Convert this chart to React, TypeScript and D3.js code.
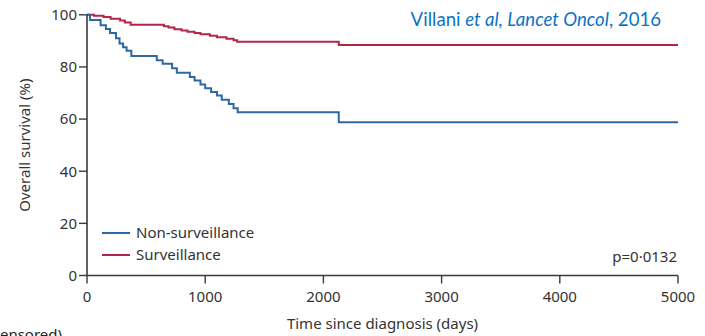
import React from "react";
import * as d3 from "d3";

const xTicks = [0, 1000, 2000, 3000, 4000, 5000];
const yTicks = [0, 20, 40, 60, 80, 100];

// Non-surveillance (blue) step times (days) and survival (%)
const nonSurvTimes = [0, 25, 115, 160, 195, 245, 275, 305, 335, 375, 590, 640, 720, 760, 870, 910, 960, 1000, 1050, 1100, 1140, 1200, 1240, 1275, 2130, 5000];
const nonSurvValues = [100, 98, 96, 94.6, 93, 91, 89, 87.6, 86.2, 84.2, 82.6, 81.2, 79.5, 77.8, 76.1, 74.8, 73.3, 71.8, 70.4, 69, 67.4, 65.8, 64.2, 62.6, 58.8, 58.8];

// Surveillance (red) step times (days) and survival (%)
const survTimes = [0, 60, 140, 200, 280, 320, 370, 650, 690, 740, 800, 850, 910, 960, 1040, 1100, 1180, 1240, 1270, 2130, 5000];
const survValues = [100, 99.6, 99.2, 98.5, 97.8, 97.0, 96.2, 95.6, 95.1, 94.5, 94.0, 93.5, 93.0, 92.5, 92.0, 91.4, 90.8, 90.2, 89.7, 88.4, 88.4];

const legendLabels = ["Non-surveillance", "Surveillance"];
const colors = ["#2f67a3", "#b3264a"];

export default function App() {
  const x = d3.scaleLinear().domain([0, 5000]).range([87, 678]);
  const y = d3.scaleLinear().domain([0, 100]).range([275.5, 14.8]);
  const line = d3
    .line<[number, number]>()
    .x((d) => x(d[0]))
    .y((d) => y(d[1]))
    .curve(d3.curveStepAfter);
  const blue = line(nonSurvTimes.map((t, i) => [t, nonSurvValues[i]]));
  const red = line(survTimes.map((t, i) => [t, survValues[i]]));
  const font = "'Noto Sans', sans-serif";
  const axisColor = "#3a3a3a";
  const textColor = "#333";
  const fs = 15;
  return (
    <svg
      width={705}
      height={336}
      style={{ position: "absolute", left: 0, top: 0, background: "#fff" }}
      fontFamily={font}
    >
      {/* title */}
      <text x={661} y={26} textAnchor="end" fill="#0a74c4" fontSize={18.6} fontFamily="Lato, sans-serif">
        Villani <tspan fontStyle="italic">et al, Lancet Oncol</tspan>, 2016
      </text>
      {/* curves */}
      <path d={red ?? ""} fill="none" stroke={colors[1]} strokeWidth={2} />
      <path d={blue ?? ""} fill="none" stroke={colors[0]} strokeWidth={2} />
      {/* axes */}
      <line x1={x(0)} x2={x(0)} y1={y(100)} y2={y(0)} stroke={axisColor} strokeWidth={1.6} />
      <line x1={x(0)} x2={x(5000)} y1={y(0)} y2={y(0)} stroke={axisColor} strokeWidth={1.6} />
      {yTicks.map((t) => (
        <g key={"y" + t}>
          <line x1={x(0) - 8} x2={x(0)} y1={y(t)} y2={y(t)} stroke={axisColor} strokeWidth={1.4} />
          <text x={x(0) - 10} y={y(t)} dy="0.36em" textAnchor="end" fontSize={fs} fill={textColor}>
            {t}
          </text>
        </g>
      ))}
      {xTicks.map((t) => (
        <g key={"x" + t}>
          <line x1={x(t)} x2={x(t)} y1={y(0)} y2={y(0) + 8} stroke={axisColor} strokeWidth={1.4} />
          <text x={x(t)} y={302} textAnchor="middle" fontSize={fs} fill={textColor}>
            {t}
          </text>
        </g>
      ))}
      <text
        transform={`translate(30, ${(y(0) + y(100)) / 2}) rotate(-90)`}
        textAnchor="middle"
        fontSize={fs}
        fill={textColor}
      >
        Overall survival (%)
      </text>
      <text x={(x(0) + x(5000)) / 2} y={329} textAnchor="middle" fontSize={fs} fill={textColor}>
        Time since diagnosis (days)
      </text>
      {/* legend */}
      {legendLabels.map((l, i) => (
        <g key={l}>
          <line x1={102} x2={130} y1={233 + i * 22} y2={233 + i * 22} stroke={colors[i]} strokeWidth={2} />
          <text x={136} y={238 + i * 22} fontSize={fs} fill={textColor}>
            {l}
          </text>
        </g>
      ))}
      <text x={677} y={262} textAnchor="end" fontSize={fs} fill={textColor}>
        p=0·0132
      </text>
      <text x={62} y={340} textAnchor="end" fontSize={fs} fill="#222">
        (censored)
      </text>
    </svg>
  );
}
